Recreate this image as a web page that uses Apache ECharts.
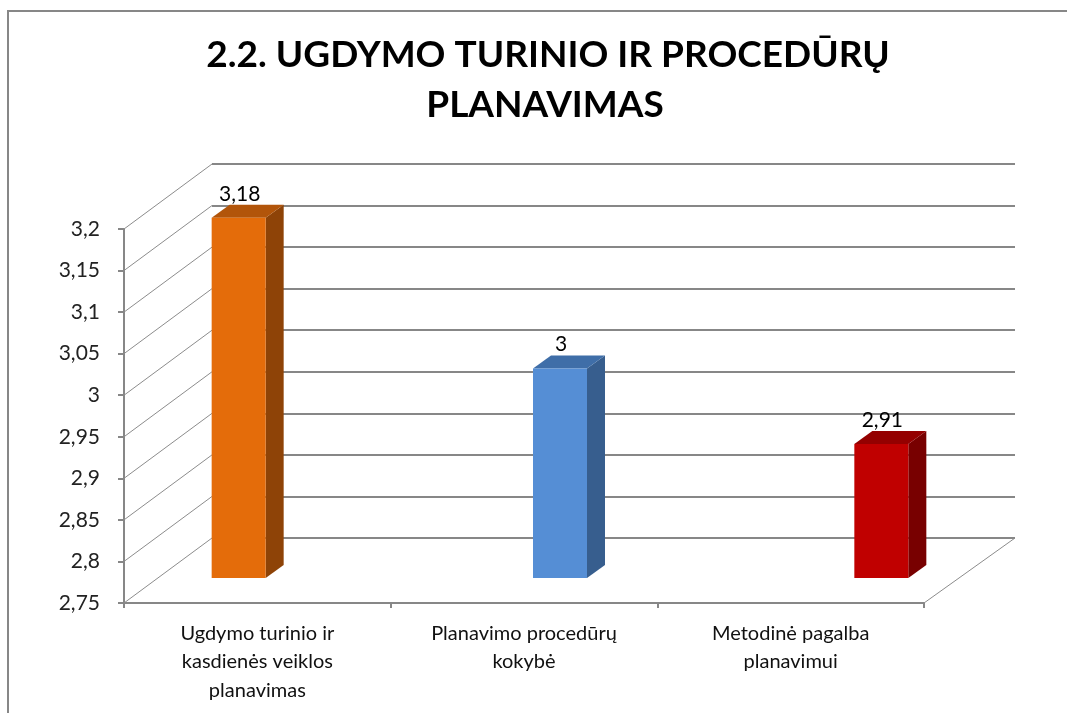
<!DOCTYPE html>
<html lang="lt">
<head>
<meta charset="utf-8">
<title>2.2. Ugdymo turinio ir procedūrų planavimas</title>
<script src="https://cdn.jsdelivr.net/npm/echarts@6/dist/echarts.min.js"></script>
<style>
  html, body { margin: 0; padding: 0; background: #fff; }
  #main { width: 1067px; height: 713px; }
</style>
</head>
<body>
<div id="main"></div>
<script type="text/javascript">
// duomenys
var categories = [
    'Ugdymo turinio ir\nkasdienės veiklos\nplanavimas',
    'Planavimo procedūrų\nkokybė',
    'Metodinė pagalba\nplanavimui'
];
var values = [3.18, 3, 2.91];
var yTicks = [2.75, 2.8, 2.85, 2.9, 2.95, 3, 3.05, 3.1, 3.15, 3.2];
var titleLines = ['2.2. UGDYMO TURINIO IR PROCEDŪRŲ', 'PLANAVIMAS'];

// spalvos: priekis, viršus, šonas
var barColors = [
    ['#E46C0A', '#B2550A', '#8E4307'],
    ['#558ED5', '#3F6EA8', '#375E8E'],
    ['#C00000', '#940000', '#780000']
];

var FONT = 'Lato, "Open Sans", sans-serif';
var DX = 88, DY = -65;        // sienos gylis
var BW = 54, BDX = 18, BDY = -13; // stulpelio plotis ir gylis

function fmt(v) {
    return String(+(+v).toFixed(2)).replace('.', ',');
}

var myChart = echarts.init(document.getElementById('main'));

var option = {
    animation: false,
    backgroundColor: '#fff',
    title: [{
        text: titleLines[0],
        left: 543, top: 32,
        textAlign: 'center',
        textStyle: { fontFamily: FONT, fontWeight: 'bold', fontSize: 37, color: '#000' }
    }, {
        text: titleLines[1],
        left: 540, top: 82,
        textAlign: 'center',
        textStyle: { fontFamily: FONT, fontWeight: 'bold', fontSize: 37, color: '#000' }
    }],
    graphic: [{
        type: 'polyline',
        shape: { points: [[8, 713], [8, 11], [1067, 11]] },
        style: { stroke: '#878787', lineWidth: 2, fill: null },
        silent: true
    }],
    grid: [
        { left: 124, right: 143, top: 229, bottom: 110 },  // priekis
        { left: 212, right: 52, top: 164, bottom: 175 },   // galinė siena
        { left: 78, right: 25, top: 201, bottom: 135 }     // stulpeliai
    ],
    xAxis: [{
        gridIndex: 0, type: 'category', data: categories,
        axisLine: { lineStyle: { color: '#878787', width: 2 } },
        axisTick: { show: true, length: 5, lineStyle: { color: '#878787', width: 2 } },
        axisLabel: { fontFamily: FONT, fontSize: 20, color: '#111', lineHeight: 28.5, margin: 16 }
    }, {
        gridIndex: 1, type: 'category', data: categories,
        axisLine: { show: false }, axisTick: { show: false }, axisLabel: { show: false }
    }, {
        gridIndex: 2, type: 'category', data: categories,
        axisLine: { show: false }, axisTick: { show: false }, axisLabel: { show: false }
    }],
    yAxis: [{
        gridIndex: 0, type: 'value', min: 2.75, max: 3.2, interval: 0.05,
        axisLine: { show: true, lineStyle: { color: '#878787', width: 2 } },
        axisTick: { show: true, length: 6, lineStyle: { color: '#878787', width: 2 } },
        splitLine: { show: false },
        axisLabel: { fontFamily: FONT, fontSize: 21, color: '#222', margin: 24, formatter: fmt }
    }, {
        gridIndex: 1, type: 'value', min: 2.75, max: 3.2, interval: 0.05,
        axisLine: { show: false }, axisTick: { show: false }, axisLabel: { show: false },
        splitLine: { show: true, lineStyle: { color: '#878787', width: 2 } }
    }, {
        gridIndex: 2, type: 'value', min: 2.75, max: 3.2, interval: 0.05,
        axisLine: { show: false }, axisTick: { show: false }, axisLabel: { show: false },
        splitLine: { show: false }
    }],
    series: [{
        // šoninė siena ir grindų kraštas
        type: 'custom',
        xAxisIndex: 0, yAxisIndex: 0,
        silent: true,
        data: yTicks.map(function (v) { return [0, v]; }),
        renderItem: function (params, api) {
            var cs = params.coordSys;
            var y = api.coord([0, api.value(1)])[1];
            var children = [{
                type: 'line',
                shape: { x1: cs.x, y1: y, x2: cs.x + DX, y2: y + DY },
                style: { stroke: '#8c8c8c', lineWidth: 1 }
            }];
            if (params.dataIndex === 0) {
                var bx = cs.x + cs.width, by = cs.y + cs.height;
                children.push({
                    type: 'line',
                    shape: { x1: bx, y1: by, x2: bx + DX + 3, y2: by + DY },
                    style: { stroke: '#8c8c8c', lineWidth: 1 }
                });
            }
            return { type: 'group', children: children };
        }
    }, {
        type: 'custom',
        xAxisIndex: 2, yAxisIndex: 2,
        silent: true,
        data: values.map(function (v, i) { return [i, v]; }),
        renderItem: function (params, api) {
            var i = api.value(0), v = api.value(1);
            var top = api.coord([i, v]);
            var base = api.coord([i, 2.75]);
            var c = barColors[i];
            var x0 = top[0] - BW / 2, x1 = top[0] + BW / 2;
            var yt = top[1], yb = base[1];
            return {
                type: 'group',
                children: [{
                    type: 'polygon',
                    shape: { points: [[x1, yt], [x1 + BDX, yt + BDY], [x1 + BDX, yb + BDY], [x1, yb]] },
                    style: { fill: c[2] }
                }, {
                    type: 'polygon',
                    shape: { points: [[x0, yt], [x0 + BDX, yt + BDY], [x1 + BDX, yt + BDY], [x1, yt]] },
                    style: { fill: c[1] }
                }, {
                    type: 'rect',
                    shape: { x: x0, y: yt, width: BW, height: yb - yt },
                    style: { fill: c[0] }
                }, {
                    type: 'text',
                    x: top[0] + 1, y: yt - 24,
                    style: {
                        text: fmt(v), fontFamily: FONT, fontSize: 21, fill: '#000',
                        align: 'center', verticalAlign: 'middle'
                    }
                }]
            };
        }
    }]
};

myChart.setOption(option);
</script>
</body>
</html>
